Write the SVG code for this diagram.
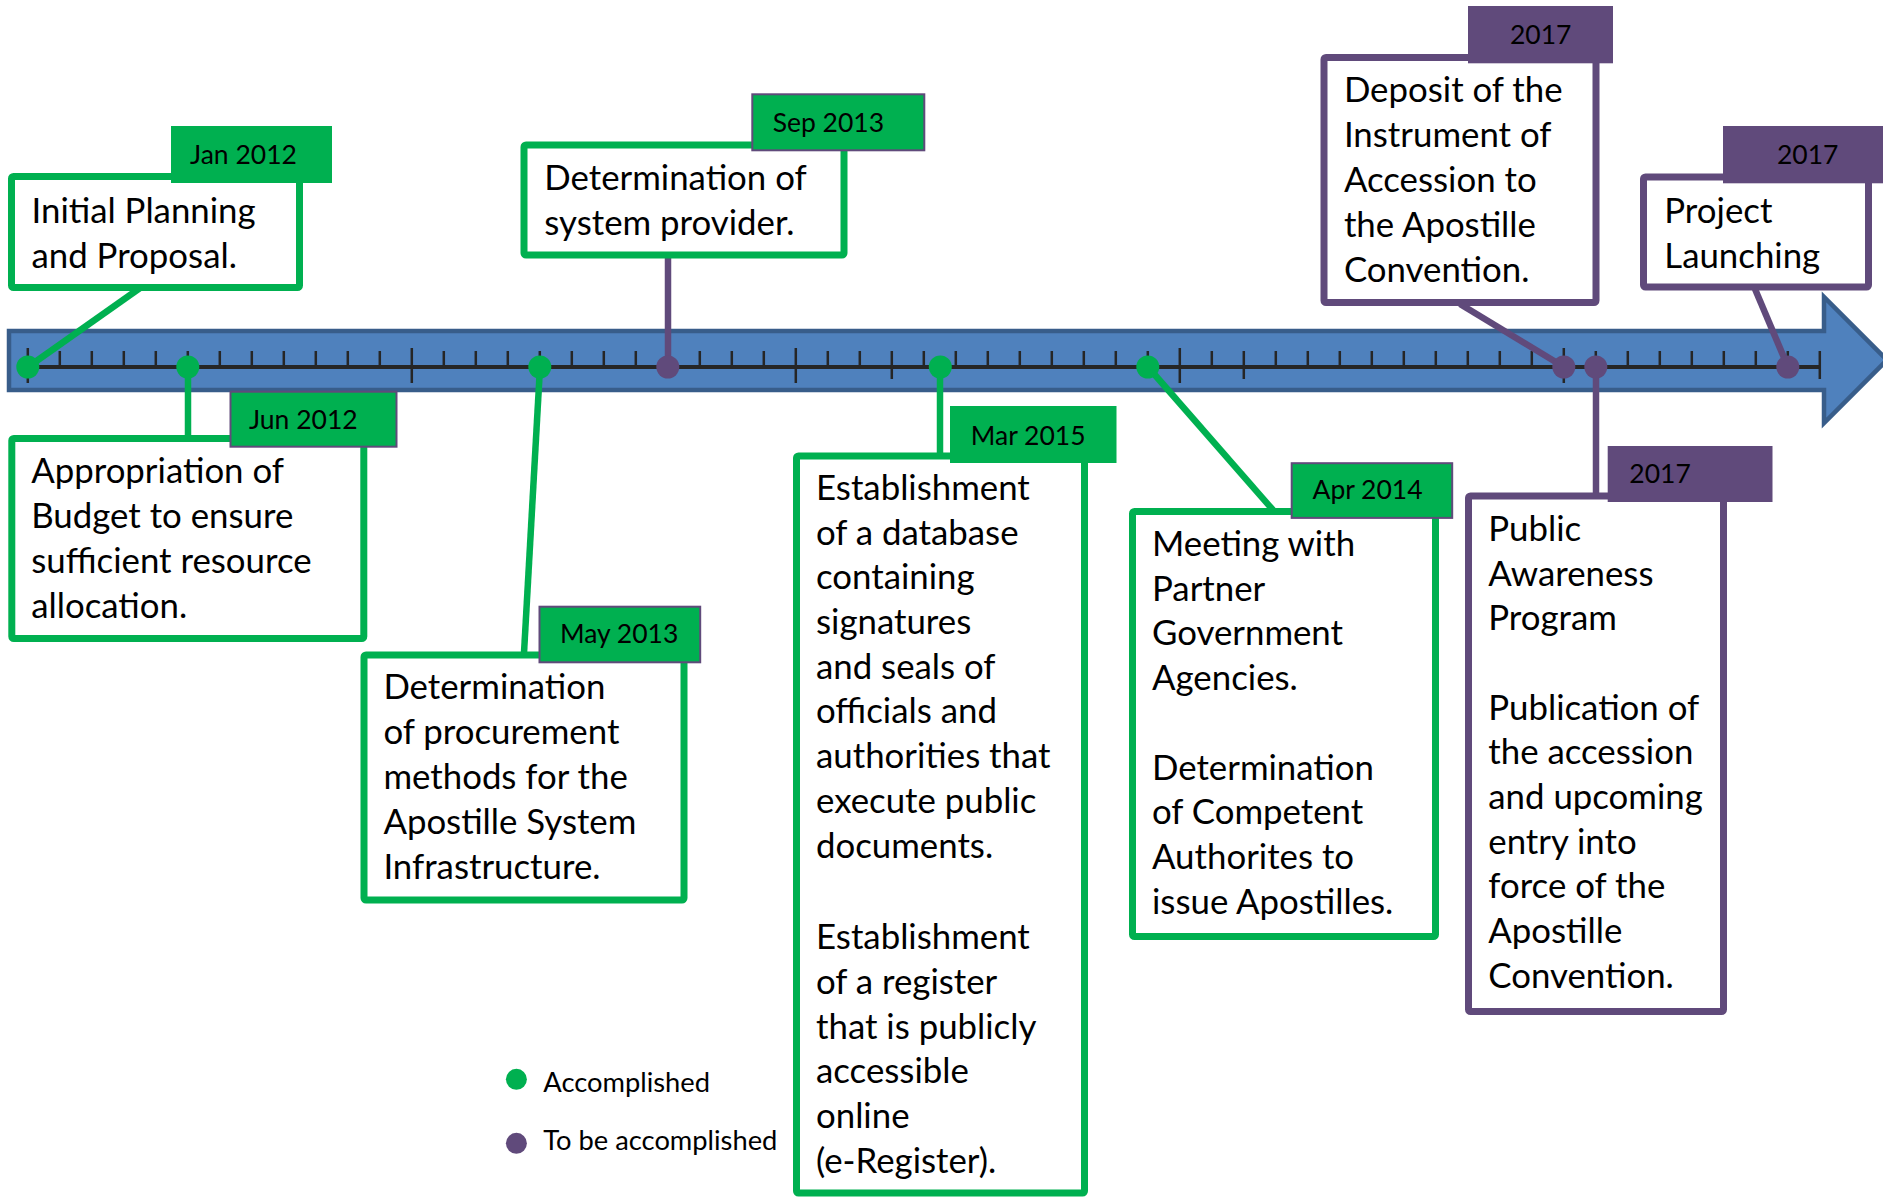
<svg xmlns="http://www.w3.org/2000/svg" width="1883" height="1197" viewBox="0 0 1883 1197">
<style>
  .box { fill: #ffffff; stroke-width: 7; }
  .g { stroke: #00B050; }
  .p { stroke: #604A7B; }
  .lblg { fill: #00B050; }
  .lblp { fill: #604A7B; }
  .outl { stroke: #604A7B; stroke-width: 2; }
  .t { font-family: Lato, "Liberation Sans", sans-serif; font-size: 34.8px; fill: #000; }
  .d { font-family: Lato, "Liberation Sans", sans-serif; font-size: 26.5px; fill: #000; }
  .lg { font-family: Lato, "Liberation Sans", sans-serif; font-size: 27.3px; fill: #000; }
  .con { fill: none; stroke-width: 6.5; stroke-linecap: butt; }
  .tick { stroke: #262626; stroke-width: 2.5; }
  .dg { fill: #00B050; }
  .dp { fill: #604A7B; }
</style>

<g id="axis">
  <polygon points="9,331 1824,331 1824,297 1887,360 1824,423 1824,390 9,390" fill="#4F81BD" stroke="#385D8A" stroke-width="4.5" stroke-linejoin="miter"/>
  <line x1="27.8" y1="367" x2="1819.8" y2="367" stroke="#262626" stroke-width="4"/>
  <g class="tick">
    <path d="M27.8 348V383 M59.8 351V367 M91.8 351V367 M123.8 351V367 M155.8 351V367 M187.8 351V367 M219.8 351V367 M251.8 351V367 M283.8 351V367 M315.8 351V367 M347.8 351V367 M379.8 351V367 M411.8 348V383 M443.8 351V367 M475.8 351V367 M507.8 351V367 M539.8 351V367 M571.8 351V367 M603.8 351V367 M635.8 351V367 M667.8 351V367 M699.8 351V367 M731.8 351V367 M763.8 351V367 M795.8 348V383 M827.8 351V367 M859.8 351V367 M891.8 351V379 M923.8 351V367 M955.8 351V367 M987.8 351V367 M1019.8 351V367 M1051.8 351V367 M1083.8 351V367 M1115.8 351V367 M1147.8 351V367 M1179.8 348V383 M1211.8 351V367 M1243.8 351V379 M1275.8 351V367 M1307.8 351V367 M1339.8 351V367 M1371.8 351V367 M1403.8 351V367 M1435.8 351V367 M1467.8 351V367 M1499.8 351V367 M1531.8 351V367 M1563.8 348V383 M1595.8 351V367 M1627.8 351V367 M1659.8 351V367 M1691.8 351V367 M1723.8 351V367 M1755.8 351V367 M1787.8 351V367 M1819.8 351V379"/>
  </g>
</g>

<g id="connectors">
  <line class="con g" x1="28" y1="367" x2="140" y2="288"/>
  <line class="con g" x1="188" y1="367" x2="188" y2="437"/>
  <line class="con g" x1="540" y1="367" x2="524" y2="653"/>
  <line class="con p" x1="668" y1="256" x2="668" y2="367"/>
  <line class="con g" x1="940" y1="367" x2="940" y2="454"/>
  <line class="con g" x1="1148" y1="367" x2="1273" y2="510"/>
  <line class="con p" x1="1460" y1="304" x2="1564" y2="367"/>
  <line class="con p" x1="1755" y1="289" x2="1788" y2="367"/>
  <line class="con p" x1="1596" y1="367" x2="1596" y2="494"/>
</g>

<g id="dots">
  <circle class="dg" cx="27.8" cy="367" r="11.5"/>
  <circle class="dg" cx="187.8" cy="367" r="11.5"/>
  <circle class="dg" cx="539.8" cy="367" r="11.5"/>
  <circle class="dp" cx="667.8" cy="367" r="11.5"/>
  <circle class="dg" cx="940.3" cy="367" r="11.5"/>
  <circle class="dg" cx="1147.8" cy="367" r="11.5"/>
  <circle class="dp" cx="1563.8" cy="367" r="11.5"/>
  <circle class="dp" cx="1595.8" cy="367" r="11.5"/>
  <circle class="dp" cx="1787.8" cy="367" r="11.5"/>
</g>

<g id="node-jan2012">
  <rect class="box g" x="11.5" y="176.5" width="288" height="111" rx="2"/>
  <rect class="lblg" x="171" y="126" width="161" height="57"/>
  <text class="d" x="190" y="164">Jan 2012</text>
  <text class="t" x="31.5" y="222.5">Initial Planning</text>
  <text class="t" x="31.5" y="267.5">and Proposal.</text>
</g>

<g id="node-jun2012">
  <rect class="box g" x="11.8" y="438.5" width="352" height="200" rx="2"/>
  <rect class="lblg outl" x="230.5" y="391.7" width="166" height="55"/>
  <text class="d" x="249" y="429">Jun 2012</text>
  <text class="t" x="31.2" y="482.5">Appropriation of</text>
  <text class="t" x="31.2" y="527.5">Budget to ensure</text>
  <text class="t" x="31.2" y="572.5">sufficient resource</text>
  <text class="t" x="31.2" y="617.5">allocation.</text>
</g>

<g id="node-may2013">
  <rect class="box g" x="364" y="655" width="320" height="245" rx="2"/>
  <rect class="lblg outl" x="539.5" y="606.7" width="160.7" height="55.6"/>
  <text class="d" x="560" y="643.3">May 2013</text>
  <text class="t" x="383.4" y="699.3">Determination</text>
  <text class="t" x="383.4" y="744.3">of procurement</text>
  <text class="t" x="383.4" y="789.3">methods for the</text>
  <text class="t" x="383.4" y="834.3">Apostille System</text>
  <text class="t" x="383.4" y="879.3">Infrastructure.</text>
</g>

<g id="node-sep2013">
  <rect class="box g" x="524" y="145" width="320" height="110" rx="2"/>
  <rect class="lblg outl" x="752.3" y="94.3" width="172" height="56"/>
  <text class="d" x="772.7" y="131.7">Sep 2013</text>
  <text class="t" x="544.3" y="190">Determination of</text>
  <text class="t" x="544.3" y="235.3">system provider.</text>
</g>

<g id="node-mar2015">
  <rect class="box g" x="796.5" y="456" width="288" height="737" rx="2"/>
  <rect class="lblg" x="950" y="406" width="166.5" height="57"/>
  <text class="d" x="970.8" y="445.4">Mar 2015</text>
  <text class="t" x="816" y="499.9">Establishment</text>
  <text class="t" x="816" y="544.6">of a database</text>
  <text class="t" x="816" y="589.3">containing</text>
  <text class="t" x="816" y="634">signatures</text>
  <text class="t" x="816" y="678.7">and seals of</text>
  <text class="t" x="816" y="723.4">officials and</text>
  <text class="t" x="816" y="768.1">authorities that</text>
  <text class="t" x="816" y="812.8">execute public</text>
  <text class="t" x="816" y="857.5">documents.</text>
  <text class="t" x="816" y="949.3">Establishment</text>
  <text class="t" x="816" y="994">of a register</text>
  <text class="t" x="816" y="1038.7">that is publicly</text>
  <text class="t" x="816" y="1083.4">accessible</text>
  <text class="t" x="816" y="1128.1">online</text>
  <text class="t" x="816" y="1172.8">(e-Register).</text>
</g>

<g id="node-apr2014">
  <rect class="box g" x="1132.5" y="511.5" width="303" height="425" rx="2"/>
  <rect class="lblg outl" x="1291.7" y="463.2" width="160.5" height="54.7"/>
  <text class="d" x="1312.5" y="499">Apr 2014</text>
  <text class="t" x="1152" y="556">Meeting with</text>
  <text class="t" x="1152" y="600.7">Partner</text>
  <text class="t" x="1152" y="645.4">Government</text>
  <text class="t" x="1152" y="690.1">Agencies.</text>
  <text class="t" x="1152" y="779.5">Determination</text>
  <text class="t" x="1152" y="824.2">of Competent</text>
  <text class="t" x="1152" y="868.9">Authorites to</text>
  <text class="t" x="1152" y="913.6">issue Apostilles.</text>
</g>

<g id="node-deposit2017">
  <rect class="box p" x="1324" y="57.5" width="272" height="245" rx="2"/>
  <rect class="lblp" x="1468" y="6" width="145" height="57.3"/>
  <text class="d" x="1510" y="44">2017</text>
  <text class="t" x="1343.9" y="101.7">Deposit of the</text>
  <text class="t" x="1343.9" y="146.7">Instrument of</text>
  <text class="t" x="1343.9" y="191.7">Accession to</text>
  <text class="t" x="1343.9" y="236.7">the Apostille</text>
  <text class="t" x="1343.9" y="281.7">Convention.</text>
</g>

<g id="node-launch2017">
  <rect class="box p" x="1643.5" y="177" width="225" height="110" rx="2"/>
  <rect class="lblp" x="1723" y="126" width="170" height="57.3"/>
  <text class="d" x="1777" y="164">2017</text>
  <text class="t" x="1664.3" y="222.5">Project</text>
  <text class="t" x="1664.3" y="267.5">Launching</text>
</g>

<g id="node-public2017">
  <rect class="box p" x="1468.5" y="496" width="255" height="515.5" rx="2"/>
  <rect class="lblp" x="1607.7" y="446" width="164.8" height="56"/>
  <text class="d" x="1629.3" y="483.1">2017</text>
  <text class="t" x="1488.3" y="540.8">Public</text>
  <text class="t" x="1488.3" y="585.5">Awareness</text>
  <text class="t" x="1488.3" y="630.2">Program</text>
  <text class="t" x="1488.3" y="719.6">Publication of</text>
  <text class="t" x="1488.3" y="764.3">the accession</text>
  <text class="t" x="1488.3" y="809">and upcoming</text>
  <text class="t" x="1488.3" y="853.7">entry into</text>
  <text class="t" x="1488.3" y="898.4">force of the</text>
  <text class="t" x="1488.3" y="943.1">Apostille</text>
  <text class="t" x="1488.3" y="987.8">Convention.</text>
</g>

<g id="legend">
  <circle class="dg" cx="516.4" cy="1079.3" r="10.5"/>
  <text class="lg" x="543.3" y="1091.7">Accomplished</text>
  <circle class="dp" cx="516.4" cy="1143.3" r="10.5"/>
  <text class="lg" x="543.3" y="1150">To be accomplished</text>
</g>
</svg>
